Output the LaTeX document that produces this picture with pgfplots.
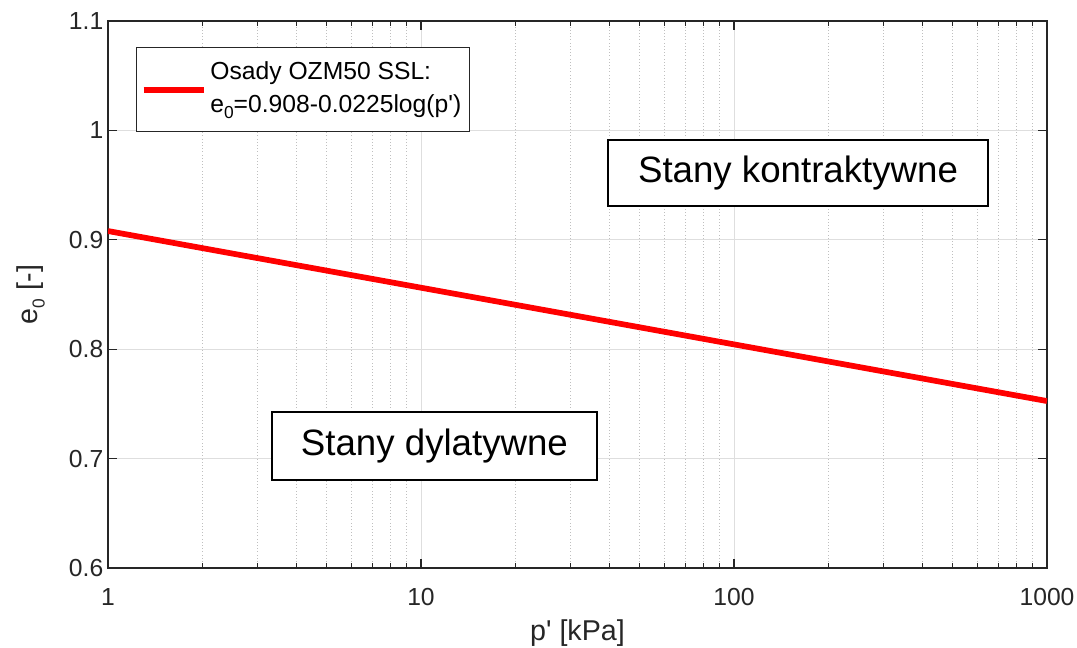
\documentclass[border=0pt]{standalone}
\usepackage{fontspec}
\setmainfont{Liberation Sans}
\usepackage{pgfplots}
\pgfplotsset{compat=1.18}
\definecolor{axgray}{RGB}{38,38,38}
\definecolor{ssl}{RGB}{255,0,0}
\newcommand\sub[1]{\raisebox{-0.45ex}{\fontsize{13}{13}\selectfont #1}}

\begin{document}
\begin{tikzpicture}[x=1pt,y=1pt]
\path[use as bounding box] (-81,-60) rectangle (726.75,426);
\begin{axis}[
  at={(0,0)}, anchor=south west,
  scale only axis, width=704.25pt, height=410.25pt,
  xmode=log, xmin=1, xmax=1000, ymin=0.6, ymax=1.1,
  xtick={1,10,100,1000}, xticklabels={1,10,100,1000},
  ytick={0.6,0.7,0.8,0.9,1,1.1},
  yticklabels={0.6,0.7,0.8,0.9,1,1.1},
  xmajorgrids, xminorgrids, ymajorgrids,
  major grid style={color=black!13, line width=0.75pt},
  minor grid style={color=black!25, dotted, line width=0.75pt},
  axis line style={axgray, line width=1pt},
  tick align=inside,
  tick style={axgray, line width=0.9pt},
  major tick length=6.75pt, minor tick length=3.75pt,
  tick label style={font=\fontsize{18.5}{22}\selectfont, text=axgray},
  /pgf/number format/assume math mode=true,
  xticklabel style={anchor=base, yshift=-28.5pt},
  label style={font=\fontsize{21.5}{25}\selectfont, text=axgray},
  xlabel={p\textquotesingle\ [kPa]},
  xlabel style={at={(axis description cs:0.5,-0.1325)}, anchor=base},
  ylabel={e\sub{0} [-]},
  ylabel style={at={(axis description cs:-0.082,0.5)}, anchor=center},
  legend style={at={(axis description cs:0.0298,0.9525)}, anchor=north west,
    draw=axgray, line width=1pt, fill=white,
    inner xsep=3pt, inner ysep=4.5pt,
    nodes={text height=, text depth=, inner xsep=3pt, inner ysep=2pt},
    font=\fontsize{18.5}{25}\selectfont, text=black},
  legend cell align=left,
  legend image code/.code={\draw[#1] (0pt,0pt) -- (45pt,0pt);},
]
\addplot[ssl, line width=4.3pt] coordinates {
  (1,0.9080) (10,0.8562) (100,0.8044) (1000,0.7526)
};
\addlegendentry{\begin{tabular}{@{}l@{}}Osady OZM50 SSL:\\ e\sub{0}=0.908-0.0225log(p\textquotesingle)\end{tabular}}

\node[draw=black, line width=1.5pt, fill=white, minimum width=285pt, minimum height=49.5pt,
      font=\fontsize{27.5}{30}\selectfont] at (axis cs:160.2,0.961) {Stany kontraktywne};
\node[draw=black, line width=1.5pt, fill=white, minimum width=243.75pt, minimum height=51pt,
      font=\fontsize{27.5}{30}\selectfont] at (axis cs:11.04,0.7115) {Stany dylatywne};
\end{axis}
\end{tikzpicture}
\end{document}
